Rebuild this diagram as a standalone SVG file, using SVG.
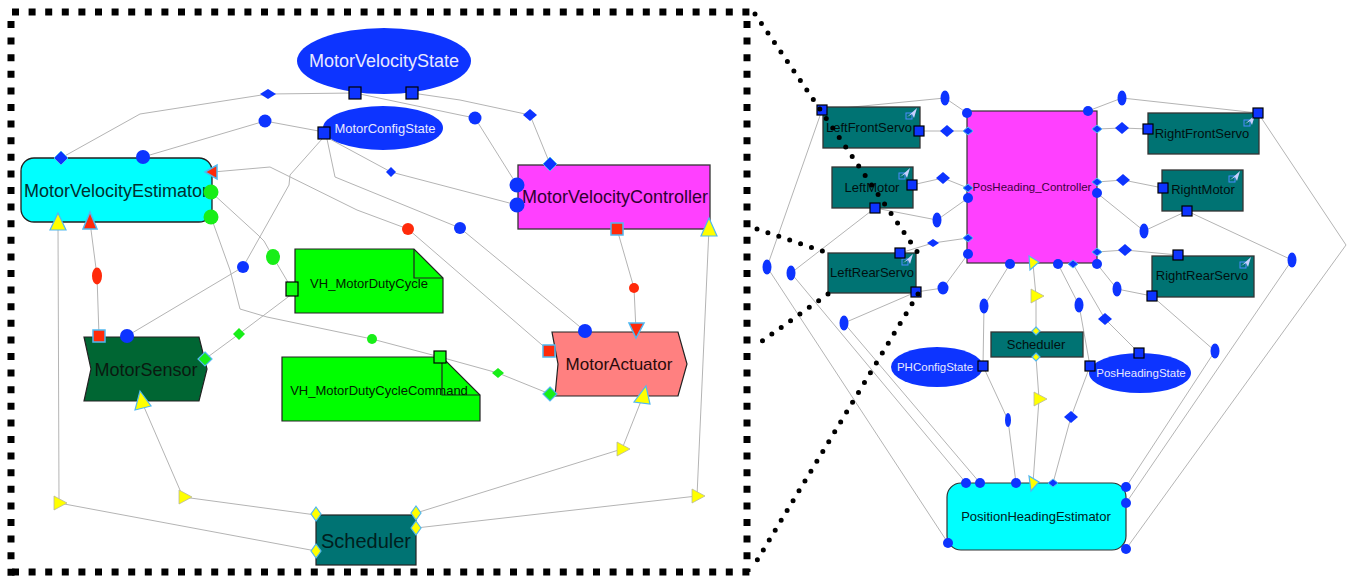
<svg xmlns="http://www.w3.org/2000/svg" xmlns:xlink="http://www.w3.org/1999/xlink" width="1351" height="577" viewBox="0 0 1351 577">
<style>
.e{fill:none;stroke:#b4b4b4;stroke-width:1}
.fr{fill:none;stroke:#000;stroke-width:7;stroke-dasharray:7 9.6}
.dl{fill:none;stroke:#000;stroke-width:5;stroke-linecap:round;stroke-dasharray:0 11.5}
.b{fill:#0d34ff}
.bs{fill:#0d34ff;stroke:#50b8f0;stroke-width:1}
.pb{fill:#0d34ff;stroke:#000;stroke-width:1.2}
.r{fill:#ff2a0a}
.rs{fill:#ff2a0a;stroke:#50b8f0;stroke-width:1.5}
.g{fill:#18ee18}
.gs{fill:#18ee18;stroke:#50b8f0;stroke-width:1.2}
.pg{fill:#10ff10;stroke:#000;stroke-width:1.2}
.y{fill:#ffff00;stroke:#b8b8a0;stroke-width:0.8}
.ys{fill:#ffff00;stroke:#50b8f0;stroke-width:1.2}
.teal{fill:#007373;stroke:#333;stroke-width:1.3}
.t{font-family:"Liberation Sans",Arial,sans-serif;text-anchor:middle}
.tw{fill:#e8e8ff}
</style>
<defs>
<polygon id="dia" points="0,-6 7,0 0,6 -7,0"/>
<polygon id="sdia" points="0,-4 5,0 0,4 -5,0"/>
<rect id="sq" x="-5" y="-5" width="10" height="10"/>
<rect id="sqL" x="-6" y="-6" width="12" height="12"/>
<ellipse id="el" rx="4.5" ry="7.5"/>
<polygon id="ytr" points="-5,-7 8,0 -5,7"/>
<polygon id="ydia" points="0,-7 5,0 0,7 -5,0"/>
<polygon id="ysd" points="0,-4 4,0 0,4 -4,0"/>
<g id="ico"><rect x="0" y="5" width="6" height="6" fill="none" stroke="#4a8cff" stroke-width="1"/><polygon points="1,9 11,0 8,10 6,6" fill="#c8d0ff"/></g>
</defs>

<g id="connectors">
<polyline class="e" points="355,93 268,94 140,114 61,158"/>
<polyline class="e" points="355,93 460,115 475,118 517,185"/>
<polyline class="e" points="412,93 460,100 530,115 550,164"/>
<polyline class="e" points="324,132 265,121 143,157"/>
<polyline class="e" points="328,138 391,172 517,205"/>
<polyline class="e" points="327,139 335,177 460,228 585,331"/>
<polyline class="e" points="322,139 290,175 289,185 243,267 127,336"/>
<polyline class="e" points="213,172 270,167 357,210 408,229 549,351"/>
<polyline class="e" points="211,192 258,235 264,241 273,257 292,289"/>
<polyline class="e" points="211,217 230,270 240,309 267,317 372,339 440,357"/>
<polyline class="e" points="440,357 498,373 550,394"/>
<polyline class="e" points="205,359 239,334 292,294"/>
<polyline class="e" points="99,336 97,276 90,222"/>
<polyline class="e" points="617,229 634,288 636,331"/>
<polyline class="e" points="316,515 183,497 141,400"/>
<polyline class="e" points="316,551 59,503 58,222"/>
<polyline class="e" points="416,513 622,449 643,396"/>
<polyline class="e" points="416,528 697,496 709,228"/>

<polyline class="e" points="822,110 945,98 967,113"/>
<polyline class="e" points="919,131 947,131 968,131"/>
<polyline class="e" points="912,185 943,178 968,188"/>
<polyline class="e" points="875,208 937,220 968,198"/>
<polyline class="e" points="875,208 791,273 966,483"/>
<polyline class="e" points="822,110 767,267 948,543"/>
<polyline class="e" points="916,292 844,323 980,483"/>
<polyline class="e" points="916,292 943,288 968,254"/>
<polyline class="e" points="900,253 933,243 968,238"/>
<polyline class="e" points="1010,264 984,306 983,366"/>
<polyline class="e" points="983,366 1008,420 1016,483"/>
<polyline class="e" points="1033,264 1036,296 1036,331"/>
<polyline class="e" points="1036,357 1039,399 1033,483"/>
<polyline class="e" points="1058,264 1079,305 1090,366"/>
<polyline class="e" points="1090,366 1071,417 1053,483"/>
<polyline class="e" points="1073,264 1105,319 1139,353"/>
<polyline class="e" points="1097,264 1117,289 1152,296"/>
<polyline class="e" points="1152,296 1215,351 1126,487"/>
<polyline class="e" points="1187,211 1292,260 1126,503"/>
<polyline class="e" points="1258,113 1346,245 1126,549"/>
<polyline class="e" points="1258,113 1122,98 1088,111"/>
<polyline class="e" points="1097,129 1122,128 1148,129"/>
<polyline class="e" points="1097,182 1123,180 1163,188"/>
<polyline class="e" points="1097,193 1144,231 1187,211"/>
<polyline class="e" points="1097,252 1125,250 1178,255"/>

<polygon class="b" points="268,89 276,94 268,99 260,94"/>
<circle class="b" cx="265" cy="121" r="6.5"/>
<circle class="b" cx="475" cy="118" r="6.5"/>
<polygon class="b" points="530,109 537,115 530,121 523,115"/>
<polygon class="b" points="391,167 396,172 391,177 386,172"/>
<circle class="b" cx="460" cy="228" r="6"/>
<circle class="b" cx="243" cy="267" r="6"/>
<circle class="r" cx="408" cy="229" r="6"/>
<ellipse class="r" cx="97" cy="276" rx="5" ry="8.5"/>
<circle class="r" cx="634" cy="288" r="5"/>
<ellipse class="g" cx="273" cy="257" rx="7" ry="8"/>
<polygon class="g" points="239,328 245,334 239,340 233,334"/>
<circle class="g" cx="372" cy="339" r="5"/>
<polygon class="g" points="498,368 504,373 498,378 492,373"/>
<use href="#ytr" x="59" y="503" class="y"/>
<use href="#ytr" x="184" y="497" class="y"/>
<use href="#ytr" x="622" y="449" class="y"/>
<use href="#ytr" x="697" y="496" class="y"/>

<use href="#el" x="945" y="98" class="b"/>
<use href="#el" x="937" y="220" class="b"/>
<use href="#el" x="791" y="273" class="b"/>
<use href="#el" x="767" y="267" class="b"/>
<use href="#el" x="844" y="323" class="b"/>
<ellipse class="b" cx="943" cy="288" rx="5.5" ry="6.5"/>
<use href="#el" x="984" y="306" class="b"/>
<ellipse class="b" cx="1008" cy="420" rx="3" ry="7"/>
<use href="#el" x="1079" y="305" class="b"/>
<use href="#el" x="1117" y="289" class="b"/>
<use href="#el" x="1215" y="351" class="b"/>
<use href="#el" x="1292" y="260" class="b"/>
<use href="#el" x="1122" y="98" class="b"/>
<use href="#el" x="1144" y="231" class="b"/>
<use href="#dia" x="947" y="131" class="b"/>
<use href="#dia" x="943" y="178" class="b"/>
<use href="#dia" x="1105" y="319" class="b"/>
<use href="#dia" x="1071" y="417" class="b"/>
<use href="#dia" x="1122" y="128" class="b"/>
<use href="#dia" x="1123" y="180" class="b"/>
<use href="#dia" x="1125" y="250" class="b"/>
<polygon class="b" points="933,239 939,243 933,247 927,243"/>
<use href="#ytr" x="1036" y="296" class="y"/>
<use href="#ytr" x="1039" y="399" class="y"/>
</g>

<g id="MotorVelocityState">
<ellipse cx="384" cy="61" rx="87" ry="33" fill="#0d34ff"/>
<text class="t tw" x="384" y="67" font-size="18">MotorVelocityState</text>
<use href="#sqL" x="355" y="93" class="pb"/>
<use href="#sqL" x="412" y="93" class="pb"/>
</g>

<g id="MotorConfigState">
<ellipse cx="383" cy="128" rx="60" ry="22" fill="#0d34ff"/>
<text class="t tw" x="385" y="133" font-size="13">MotorConfigState</text>
<use href="#sqL" x="324" y="133" class="pb"/>
</g>

<g id="MotorVelocityEstimator">
<rect x="21" y="158" width="191" height="64" rx="13" fill="#00ffff" stroke="#222" stroke-width="1.3"/>
<text class="t" x="116" y="197" font-size="18" fill="#003030">MotorVelocityEstimator</text>
<polygon class="bs" points="61,151 68,158 61,165 54,158"/>
<circle class="b" cx="143" cy="157" r="7"/>
<polygon class="rs" points="205,172 217,165 217,179"/>
<circle class="g" cx="211" cy="192" r="7.5"/>
<circle class="g" cx="211" cy="217" r="7.5"/>
<polygon class="ys" points="58,213 66,230 50,230"/>
<polygon class="rs" points="90,212 97,229 83,229"/>
</g>

<g id="MotorVelocityController">
<rect x="518" y="165" width="192" height="64" fill="#ff40ff" stroke="#333" stroke-width="1.3"/>
<text class="t" x="615" y="203" font-size="18" fill="#300030">MotorVelocityController</text>
<polygon class="bs" points="550,157 557,164 550,171 543,164"/>
<circle class="b" cx="517" cy="185" r="7.5"/>
<circle class="b" cx="517" cy="205" r="7.5"/>
<use href="#sqL" x="617" y="229" class="rs"/>
<polygon class="ys" points="709,218 717,236 701,236"/>
</g>

<g id="VH_MotorDutyCycle">
<path d="M295,249 H414 L443,278 V313 H295 Z" fill="#00ff00" stroke="#222" stroke-width="1.2"/>
<path d="M414,249 V278 H443" fill="none" stroke="#222" stroke-width="1.2"/>
<text class="t" x="369" y="288" font-size="13" fill="#002200">VH_MotorDutyCycle</text>
<rect x="286" y="282" width="12" height="14" class="pg"/>
</g>

<g id="VH_MotorDutyCycleCommand">
<path d="M282,357 H442 L480,395 V421 H282 Z" fill="#00ff00" stroke="#222" stroke-width="1.2"/>
<path d="M442,357 V395 H480" fill="none" stroke="#222" stroke-width="1.2"/>
<text class="t" x="379" y="395" font-size="13" fill="#002200">VH_MotorDutyCycleCommand</text>
<use href="#sqL" x="440" y="357" class="pg"/>
</g>

<g id="MotorSensor">
<path d="M84,337 H199 L207,369 L199,401 H84 L91,369 Z" fill="#006633" stroke="#222" stroke-width="1.2"/>
<text class="t" x="146" y="376" font-size="18" fill="#0a1a10">MotorSensor</text>
<use href="#sqL" x="99" y="336" class="rs"/>
<circle class="b" cx="127" cy="336" r="7"/>
<polygon class="gs" points="205,352 212,359 205,366 198,359"/>
<polygon class="ys" points="140,391 151,406 135,410"/>
</g>

<g id="MotorActuator">
<path d="M552,332 H678 L687,364 L678,396 H555 L558,364 Z" fill="#ff8080" stroke="#222" stroke-width="1.2"/>
<text class="t" x="619" y="370" font-size="17" fill="#2a0a0a">MotorActuator</text>
<circle class="b" cx="585" cy="331" r="7"/>
<polygon class="rs" points="629,323 644,323 636,338"/>
<use href="#sqL" x="549" y="351" class="rs"/>
<polygon class="gs" points="550,387 557,394 550,401 543,394"/>
<polygon class="ys" points="646,386 650,404 634,402"/>
</g>

<g id="Scheduler">
<rect x="316" y="515" width="100" height="50" fill="#007373" stroke="#222" stroke-width="1.2"/>
<text class="t" x="366" y="548" font-size="20" fill="#002020">Scheduler</text>
<use href="#ydia" x="316" y="514" class="ys"/>
<use href="#ydia" x="416" y="513" class="ys"/>
<use href="#ydia" x="416" y="528" class="ys"/>
<use href="#ydia" x="316" y="551" class="ys"/>
</g>

<g id="LeftFrontServo">
<rect x="823" y="107" width="97" height="41" class="teal"/>
<use href="#ico" x="906" y="108"/>
<text class="t" x="869" y="132" font-size="13" fill="#001010">LeftFrontServo</text>
<use href="#sq" x="822" y="110" class="pb"/>
<use href="#sq" x="919" y="131" class="pb"/>
</g>

<g id="LeftMotor">
<rect x="832" y="167" width="81" height="41" class="teal"/>
<use href="#ico" x="899" y="168"/>
<text class="t" x="872" y="192" font-size="13" fill="#001010">LeftMotor</text>
<use href="#sq" x="912" y="185" class="pb"/>
<use href="#sq" x="875" y="208" class="pb"/>
</g>

<g id="LeftRearServo">
<rect x="828" y="253" width="88" height="40" class="teal"/>
<use href="#ico" x="902" y="254"/>
<text class="t" x="872" y="277" font-size="13" fill="#001010">LeftRearServo</text>
<use href="#sq" x="900" y="253" class="pb"/>
<use href="#sq" x="916" y="292" class="pb"/>
</g>

<g id="PosHeading_Controller">
<rect x="967" y="111" width="130" height="152" fill="#ff40ff" stroke="#333" stroke-width="1.2"/>
<text class="t" x="1032" y="191" font-size="11.5" fill="#400040">PosHeading_Controller</text>
<circle class="b" cx="967" cy="113" r="5"/>
<circle class="b" cx="1088" cy="111" r="5"/>
<use href="#sdia" x="968" y="131" class="bs"/>
<use href="#sdia" x="968" y="188" class="bs"/>
<circle class="b" cx="968" cy="198" r="5"/>
<use href="#sdia" x="968" y="238" class="bs"/>
<circle class="b" cx="968" cy="254" r="5"/>
<circle class="b" cx="1010" cy="264" r="5"/>
<polygon class="ys" points="1029,256 1039,262 1030,270"/>
<circle class="b" cx="1058" cy="264" r="5"/>
<use href="#sdia" x="1073" y="264" class="bs"/>
<circle class="b" cx="1097" cy="264" r="5"/>
<use href="#sdia" x="1097" y="129" class="bs"/>
<use href="#sdia" x="1097" y="182" class="bs"/>
<circle class="b" cx="1097" cy="193" r="5"/>
<use href="#sdia" x="1097" y="252" class="bs"/>
</g>

<g id="RightFrontServo">
<rect x="1148" y="113" width="111" height="41" class="teal"/>
<use href="#ico" x="1244" y="115"/>
<text class="t" x="1202" y="138" font-size="13" fill="#001010">RightFrontServo</text>
<use href="#sq" x="1148" y="129" class="pb"/>
<use href="#sq" x="1258" y="113" class="pb"/>
</g>

<g id="RightMotor">
<rect x="1162" y="170" width="81" height="41" class="teal"/>
<use href="#ico" x="1229" y="171"/>
<text class="t" x="1203" y="194" font-size="13" fill="#001010">RightMotor</text>
<use href="#sq" x="1163" y="188" class="pb"/>
<use href="#sq" x="1187" y="211" class="pb"/>
</g>

<g id="RightRearServo">
<rect x="1152" y="256" width="102" height="41" class="teal"/>
<use href="#ico" x="1240" y="257"/>
<text class="t" x="1202" y="280" font-size="13" fill="#001010">RightRearServo</text>
<use href="#sq" x="1178" y="255" class="pb"/>
<use href="#sq" x="1152" y="296" class="pb"/>
</g>

<g id="Scheduler2">
<rect x="991" y="332" width="92" height="25" class="teal"/>
<text class="t" x="1036" y="349" font-size="13" fill="#001010">Scheduler</text>
<use href="#ysd" x="1036" y="331" class="ys"/>
<use href="#ysd" x="1036" y="357" class="ys"/>
</g>

<g id="PHConfigState">
<ellipse cx="937" cy="367" rx="46" ry="20" fill="#0d34ff"/>
<text class="t tw" x="935" y="371" font-size="11.5">PHConfigState</text>
<use href="#sq" x="983" y="366" class="pb"/>
</g>

<g id="PosHeadingState">
<ellipse cx="1140" cy="373" rx="51" ry="20" fill="#0d34ff"/>
<text class="t tw" x="1141" y="377" font-size="11.5">PosHeadingState</text>
<use href="#sq" x="1139" y="353" class="pb"/>
<use href="#sq" x="1090" y="366" class="pb"/>
</g>

<g id="PositionHeadingEstimator">
<rect x="947" y="483" width="179" height="67" rx="14" fill="#00ffff" stroke="#333" stroke-width="1.2"/>
<text class="t" x="1036" y="521" font-size="13" fill="#002020">PositionHeadingEstimator</text>
<circle class="b" cx="966" cy="483" r="5"/>
<circle class="b" cx="980" cy="483" r="5"/>
<circle class="b" cx="1016" cy="483" r="5"/>
<polygon class="ys" points="1029,476 1039,482 1031,491"/>
<use href="#sdia" x="1053" y="483" class="bs"/>
<circle class="b" cx="1126" cy="487" r="5"/>
<circle class="b" cx="1126" cy="503" r="5"/>
<circle class="b" cx="1126" cy="549" r="5"/>
<circle class="b" cx="948" cy="543" r="5"/>
</g>

<g id="frame">
<path class="fr" d="M12,12 H750"/>
<path class="fr" d="M11,21 V577"/>
<path class="fr" d="M12,572 H750"/>
<path class="fr" d="M747,21 V572"/>
<path class="dl" d="M755,14 L918,253"/>
<path class="dl" d="M757,229 L828,253"/>
<path class="dl" d="M828,294 L758,344"/>
<path class="dl" d="M918,294 L756,562"/>
</g>
</svg>
